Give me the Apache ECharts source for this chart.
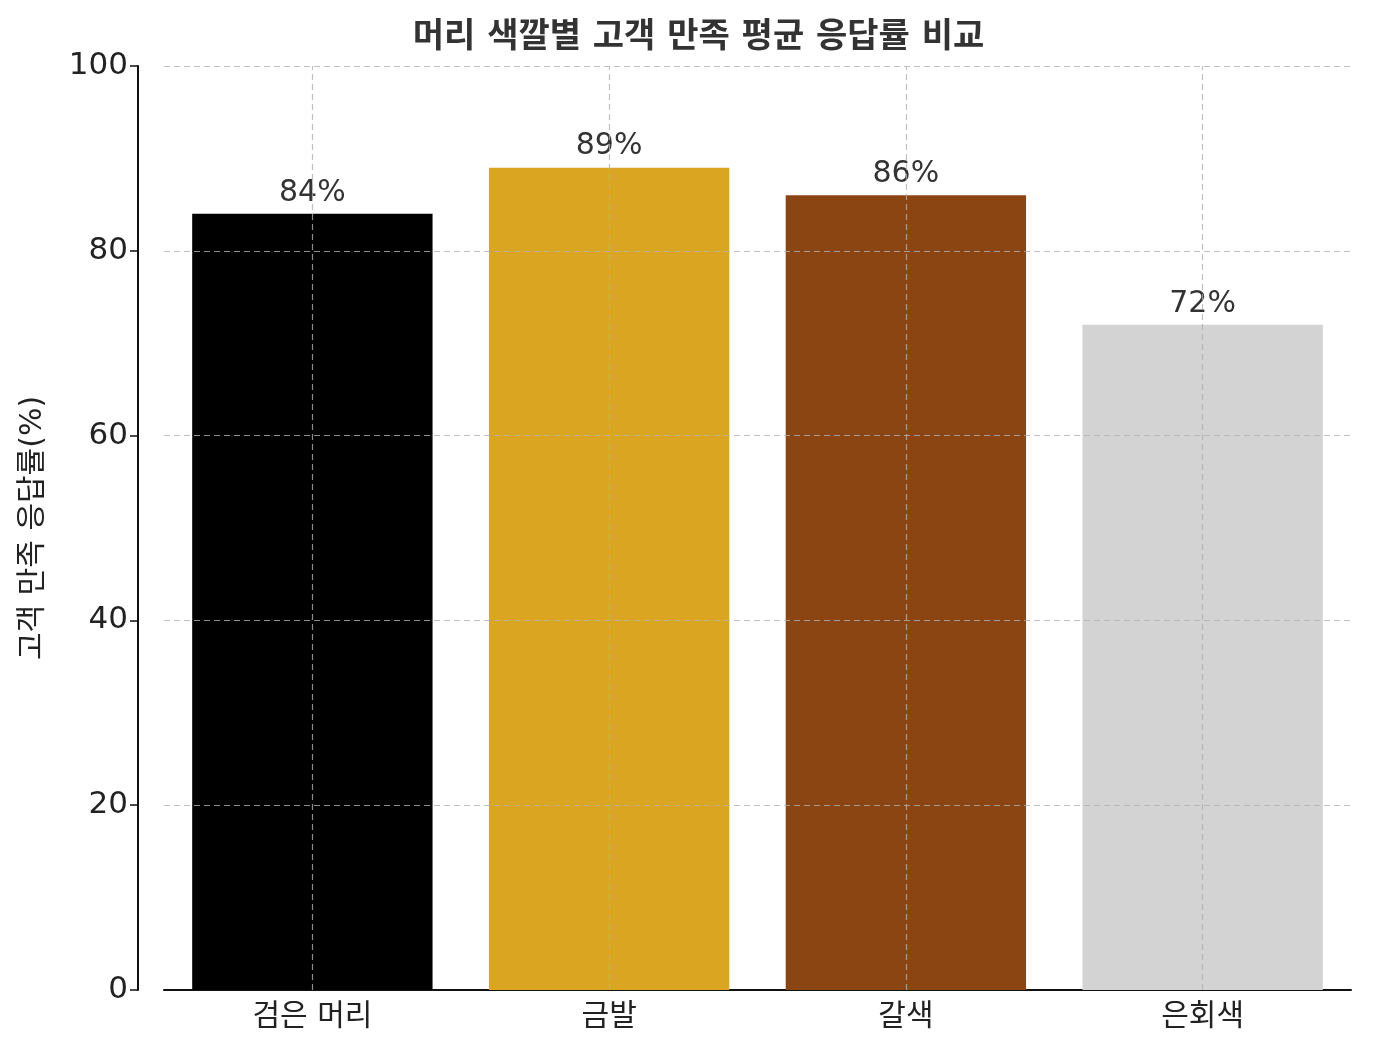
<!DOCTYPE html>
<html>
<head>
<meta charset="utf-8">
<title>chart</title>
<script src="https://cdn.jsdelivr.net/npm/echarts@6/dist/echarts.min.js"></script>
<style>body{margin:0;background:#fff}#chart{width:1397px;height:1053px}</style>
</head>
<body>
<div id="chart"></div>
<script>
// 데이터
var categories = ['검은 머리', '금발', '갈색', '은회색'];
var values = [84, 89, 86, 72];
var barColors = ['#000000', '#DAA520', '#8B4513', '#D3D3D3'];
var yTicks = [20, 40, 60, 80, 100];

var font = '"DejaVu Sans", "Noto Sans CJK KR", sans-serif';
var gridStyle = { color: '#b0b0b0', type: [6, 4], width: 1.2, opacity: 0.8 };

var gridLines = categories.map(function (c) { return { xAxis: c }; })
    .concat(yTicks.map(function (v) { return { yAxis: v }; }));

var chart = echarts.init(document.getElementById('chart'));
chart.setOption({
    animation: false,
    textStyle: { fontFamily: font },
    title: {
        text: '머리 색깔별 고객 만족 평균 응답률 비교',
        left: 'center', top: 16,
        textStyle: { fontSize: 34, fontWeight: 'bold', color: '#333', fontFamily: font }
    },
    grid: { left: 164, right: 46, top: 66, bottom: 63 },
    xAxis: {
        type: 'category',
        data: categories,
        axisLine: { lineStyle: { color: '#111', width: 2 } },
        axisTick: { alignWithLabel: true, length: 8, lineStyle: { color: '#111', width: 1.5 } },
        axisLabel: { fontSize: 30, color: '#222', margin: 12, fontFamily: font },
        splitLine: { show: false }
    },
    yAxis: {
        type: 'value', min: 0, max: 100, interval: 20,
        offset: 26,
        name: '고객 만족 응답률(%)',
        nameLocation: 'middle', nameGap: 90,
        nameTextStyle: { fontSize: 30, color: '#222', fontFamily: font },
        axisLine: { show: true, lineStyle: { color: '#111', width: 2 } },
        axisTick: { show: true, length: 8, lineStyle: { color: '#111', width: 1.5 } },
        axisLabel: { fontSize: 31, color: '#222', margin: 10, fontFamily: font },
        splitLine: { show: false }
    },
    series: [{
        type: 'bar',
        barWidth: '81%',
        data: values.map(function (v, i) { return { value: v, itemStyle: { color: barColors[i] } }; }),
        label: {
            show: true, position: 'top', distance: 6,
            formatter: '{c}%', fontSize: 30, color: '#333', fontFamily: font
        },
        markLine: {
            silent: true, symbol: 'none', label: { show: false },
            lineStyle: gridStyle,
            data: gridLines
        }
    }]
});
</script>
</body>
</html>
